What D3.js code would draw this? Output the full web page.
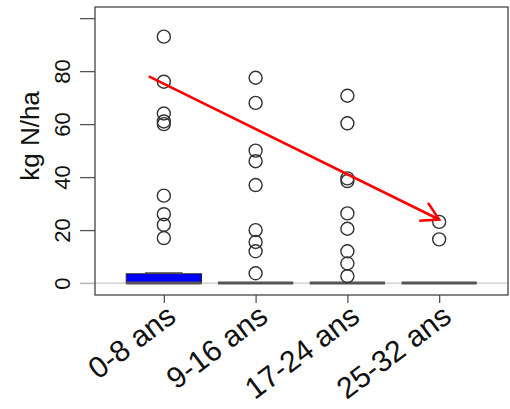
<!DOCTYPE html>
<html>
<head>
<meta charset="utf-8">
<script src="https://cdn.jsdelivr.net/npm/d3@7"></script>
<style>
  body { margin: 0; background: #fff; }
  svg { display: block; font-family: "Liberation Sans", Arial, sans-serif; }
</style>
</head>
<body>
<div id="chart"></div>
<script>
/* global d3 */

// DATA
var categories = ['0-8 ans', '9-16 ans', '17-24 ans', '25-32 ans'];
// outlier points (kg N/ha)
var outliers0 = [93, 76, 64, 61, 60, 33, 26, 22, 17];
var outliers1 = [77.5, 68, 50, 46, 37, 20, 15.5, 12, 3.7];
var outliers2 = [70.7, 60.3, 39.5, 38.5, 26.3, 20.5, 12, 7.4, 2.6];
var outliers3 = [23.1, 16.5];
// box stats: [q1, median, q3, upper whisker]
var boxStats = [[0, 0, 3.5, 3.9], [0, 0, 0, 0], [0, 0, 0, 0], [0, 0, 0, 0]];
var yTicks = [0, 20, 40, 60, 80, 100];
var yTickLabels = ['0', '20', '40', '60', '80', ''];
var yTitle = 'kg N/ha';
// trend arrow: from first group (value) to last group (value)
var arrowFrom = ['0-8 ans', 78];
var arrowTo = ['25-32 ans', 24];

var width = 510,
  height = 409,
  margin = { top: 7, right: 2, bottom: 114, left: 95 };

var svg = d3.select('#chart').append('svg')
  .attr('width', width)
  .attr('height', height);

var xScale = d3.scalePoint()
  .domain(categories)
  .range([margin.left, width - margin.right])
  .padding(0.75);

var yScale = d3.scaleLinear()
  .domain([-4.5, 104.2])
  .range([height - margin.bottom, margin.top]);

var boxWidth = xScale.step() * 0.82;

function translation(x, y) {
  return 'translate(' + x + ',' + y + ')';
}

// ZERO REFERENCE LINE
svg.append('line')
  .attr('x1', margin.left - 15)
  .attr('x2', width - margin.right)
  .attr('y1', yScale(0))
  .attr('y2', yScale(0))
  .attr('stroke', '#c8c8c8')
  .attr('stroke-width', 1.3);

// Y AXIS
var yAxis = d3.axisLeft(yScale)
  .tickValues(yTicks)
  .tickSize(15)
  .tickFormat(function (d, i) { return yTickLabels[i]; });

var gy = svg.append('g')
  .attr('transform', translation(margin.left, 0))
  .call(yAxis);
gy.select('.domain').remove();
gy.selectAll('.tick line').attr('stroke', '#555').attr('stroke-width', 1.3);
gy.selectAll('.tick').filter(function (d) { return d === 0; })
  .select('line').attr('stroke', '#bbb');
gy.selectAll('.tick text')
  .attr('x', null).attr('dy', null)
  .attr('transform', 'translate(-25,0) rotate(-90)')
  .attr('text-anchor', 'middle')
  .attr('fill', '#111')
  .style('font-size', '22px');

svg.append('text')
  .attr('transform', translation(39, 136) + ' rotate(-90)')
  .attr('text-anchor', 'middle')
  .attr('fill', '#111')
  .style('font-size', '26px')
  .text(yTitle);

// X AXIS
var xAxis = d3.axisBottom(xScale).tickSize(8).tickFormat('');
var gx = svg.append('g')
  .attr('transform', translation(0, height - margin.bottom))
  .call(xAxis);
gx.select('.domain').remove();
gx.selectAll('.tick line').attr('stroke', '#555').attr('stroke-width', 1.3);

svg.append('g').selectAll('text.xlab')
  .data(categories)
  .enter().append('text')
  .attr('class', 'xlab')
  .attr('transform', function (d) {
    return translation(xScale(d) + 14, height - margin.bottom + 25) + ' rotate(-37)';
  })
  .attr('text-anchor', 'end')
  .attr('fill', '#111')
  .style('font-size', '30px')
  .text(function (d) { return d; });

// BOXES
var boxes = svg.append('g').selectAll('g.box')
  .data(categories.map(function (c, i) { return { cat: c, s: boxStats[i] }; }))
  .enter().append('g')
  .attr('class', 'box');

boxes.filter(function (d) { return d.s[3] > d.s[2]; })
  .append('line')
  .attr('x1', function (d) { return xScale(d.cat) - boxWidth / 4; })
  .attr('x2', function (d) { return xScale(d.cat) + boxWidth / 4; })
  .attr('y1', function (d) { return yScale(d.s[3]); })
  .attr('y2', function (d) { return yScale(d.s[3]); })
  .attr('stroke', '#444')
  .attr('stroke-width', 1.2);

boxes.filter(function (d) { return d.s[2] > d.s[0]; })
  .append('rect')
  .attr('x', function (d) { return xScale(d.cat) - boxWidth / 2; })
  .attr('width', boxWidth)
  .attr('y', function (d) { return yScale(d.s[2]); })
  .attr('height', function (d) { return yScale(d.s[0]) - yScale(d.s[2]); })
  .attr('fill', '#0000ff')
  .attr('stroke', '#222')
  .attr('stroke-width', 1);

boxes.append('line')
  .attr('x1', function (d) { return xScale(d.cat) - boxWidth / 2; })
  .attr('x2', function (d) { return xScale(d.cat) + boxWidth / 2; })
  .attr('y1', function (d) { return yScale(d.s[1]); })
  .attr('y2', function (d) { return yScale(d.s[1]); })
  .attr('stroke', '#555')
  .attr('stroke-width', 3);

// OUTLIER POINTS
var points = [];
[outliers0, outliers1, outliers2, outliers3].forEach(function (arr, i) {
  arr.forEach(function (v) { points.push({ cat: categories[i], v: v }); });
});

svg.append('g').selectAll('circle')
  .data(points)
  .enter().append('circle')
  .attr('cx', function (d) { return xScale(d.cat); })
  .attr('cy', function (d) { return yScale(d.v); })
  .attr('r', 6.5)
  .attr('fill', 'none')
  .attr('stroke', '#333')
  .attr('stroke-width', 1.4);

// PLOT FRAME
svg.append('rect')
  .attr('x', margin.left)
  .attr('y', margin.top)
  .attr('width', width - margin.right - margin.left)
  .attr('height', height - margin.bottom - margin.top)
  .attr('fill', 'none')
  .attr('stroke', '#444')
  .attr('stroke-width', 1.3);

// TREND ARROW
var ax0 = xScale(arrowFrom[0]) - 15,
  ay0 = yScale(arrowFrom[1]),
  ax1 = xScale(arrowTo[0]),
  ay1 = yScale(arrowTo[1]),
  ang = Math.atan2(ay1 - ay0, ax1 - ax0),
  headLen = 20,
  headAng = Math.PI / 6;

var arrow = svg.append('g')
  .attr('stroke', '#ff0000')
  .attr('stroke-width', 2.6)
  .attr('fill', 'none');

arrow.append('line')
  .attr('x1', ax0).attr('y1', ay0)
  .attr('x2', ax1).attr('y2', ay1);

arrow.append('path')
  .attr('d', d3.line()([
    [ax1 - headLen * Math.cos(ang - headAng), ay1 - headLen * Math.sin(ang - headAng)],
    [ax1, ay1],
    [ax1 - headLen * Math.cos(ang + headAng), ay1 - headLen * Math.sin(ang + headAng)]
  ]));
</script>
</body>
</html>
